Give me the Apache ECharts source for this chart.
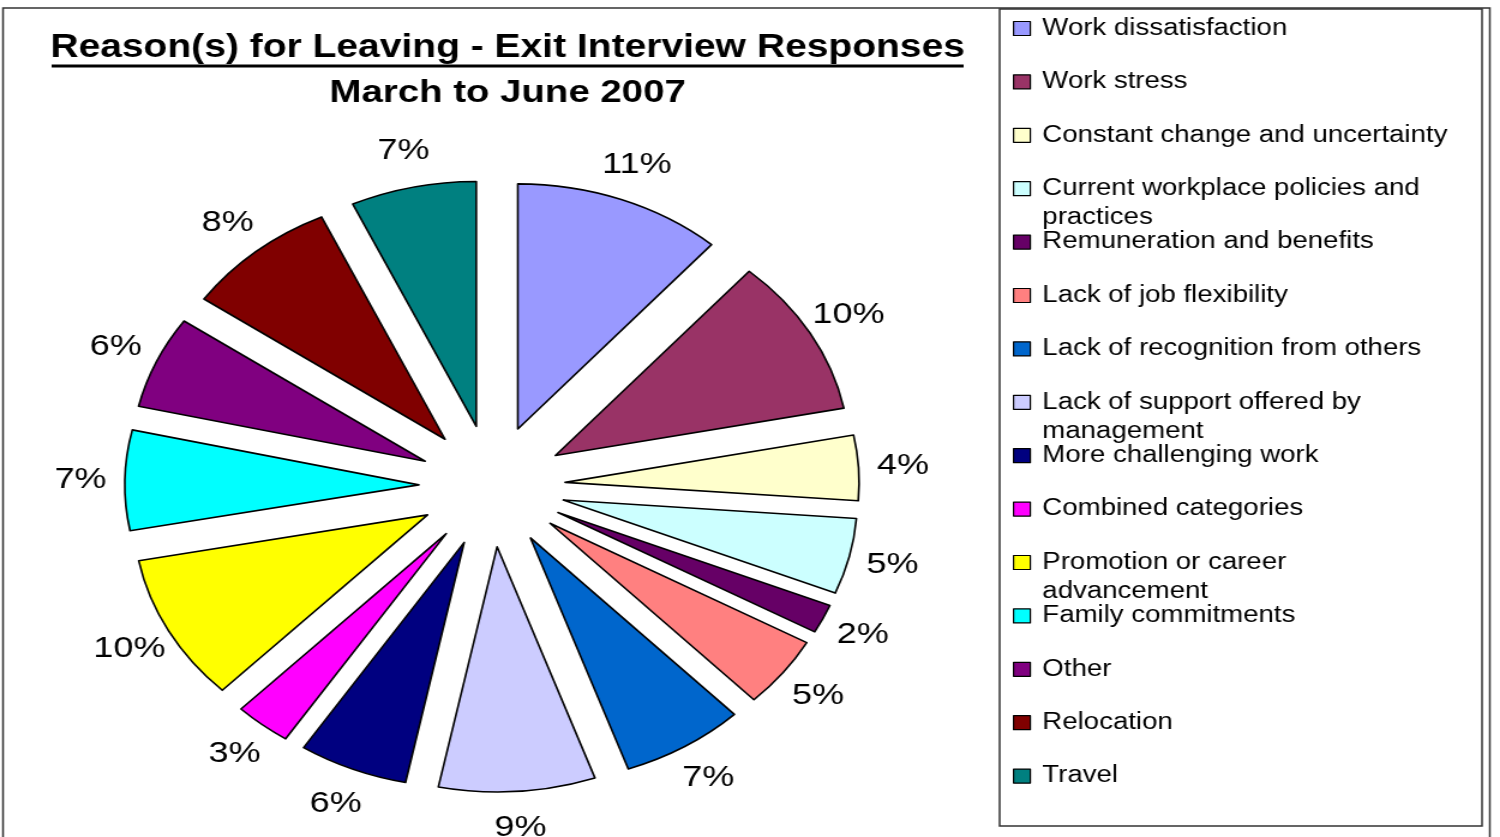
<!DOCTYPE html>
<html>
<head>
<meta charset="UTF-8">
<title>Reason(s) for Leaving - Exit Interview Responses</title>
<script src="https://cdn.jsdelivr.net/npm/echarts@6/dist/echarts.min.js"></script>
<style>
  html, body { margin: 0; padding: 0; background: #fff; overflow: hidden; }
  /* the original picture is stretched sideways, so the chart is drawn narrower and scaled */
  #main { width: 1250px; height: 837px; transform: scaleX(1.2); transform-origin: 0 0; }
</style>
</head>
<body>
<div id="main"></div>
<script type="text/javascript">
var reasons = [
  'Work dissatisfaction',
  'Work stress',
  'Constant change and uncertainty',
  'Current workplace policies and practices',
  'Remuneration and benefits',
  'Lack of job flexibility',
  'Lack of recognition from others',
  'Lack of support offered by management',
  'More challenging work',
  'Combined categories',
  'Promotion or career advancement',
  'Family commitments',
  'Other',
  'Relocation',
  'Travel'
];
// share of responses (%); labels show them rounded
var shares = [11.45, 10.45, 4.3, 5.0, 1.9, 4.7, 6.8, 8.6, 6.0, 3.1, 9.7, 6.6, 6.1, 8.4, 6.9];
var sliceColors = [
  '#9999FF', '#993366', '#FFFFCC', '#CCFFFF', '#660066',
  '#FF8080', '#0066CC', '#CCCCFF', '#000080', '#FF00FF',
  '#FFFF00', '#00FFFF', '#800080', '#800000', '#008080'
];
// legend entries that wrap onto two lines in the original
var legendText = {
  'Current workplace policies and practices': ['Current workplace policies and', 'practices'],
  'Lack of support offered by management': ['Lack of support offered by', 'management'],
  'Promotion or career advancement': ['Promotion or career', 'advancement']
};

var FONT = '"Liberation Sans", Arial, sans-serif';
var myChart = echarts.init(document.getElementById('main'));

// one legend per row so the wrapped rows don't push the others down
var legends = reasons.map(function (name, i) {
  var wrapped = legendText.hasOwnProperty(name);
  var rowY = 28.5 + 53.4 * i;
  return {
    data: [name],
    orient: 'vertical',
    left: 844,
    top: wrapped ? rowY - 40.5 : rowY - 14.5,
    padding: 0,
    icon: 'rect',
    itemWidth: 14,
    itemHeight: 14,
    selectedMode: false,
    itemStyle: { borderColor: '#000', borderWidth: 1.2 },
    formatter: function (n) {
      var t = legendText[n];
      return t ? '{a|' + t[0] + '}\n{a|' + t[1] + '}' : n;
    },
    textStyle: {
      fontFamily: FONT, fontSize: 23, color: '#000', lineHeight: 29, padding: [0, 0, 0, 5],
      rich: {
        a: { fontFamily: FONT, fontSize: 23, color: '#000', lineHeight: 29, padding: [29, 0, 0, 0] }
      }
    }
  };
});

var option = {
  animation: false,
  title: {
    text: 'Reason(s) for Leaving - Exit Interview Responses',
    subtext: 'March to June 2007',
    left: 418,
    top: 27,
    textAlign: 'center',
    itemGap: 12,
    textStyle: { fontFamily: FONT, fontSize: 32.5, fontWeight: 'bold', color: '#000' },
    subtextStyle: { fontFamily: FONT, fontSize: 32, fontWeight: 'bold', color: '#000' }
  },
  legend: legends,
  graphic: [
    { type: 'rect', shape: { x: 2.5, y: 8, width: 1239, height: 845 },
      style: { fill: 'none', stroke: '#333', lineWidth: 1.5 }, silent: true },
    { type: 'rect', shape: { x: 833, y: 9, width: 402, height: 817 },
      style: { fill: 'none', stroke: '#333', lineWidth: 1.5 }, silent: true },
    { type: 'line', shape: { x1: 43, y1: 66, x2: 803, y2: 66 },
      style: { stroke: '#000', lineWidth: 3 }, silent: true }
  ],
  series: [
    {
      // exploded slices
      type: 'pie',
      center: [410, 486],
      radius: 245,
      startAngle: 90,
      clockwise: true,
      selectedMode: 'multiple',
      selectedOffset: 61,
      avoidLabelOverlap: false,
      label: { show: false },
      labelLine: { show: false },
      emphasis: { disabled: true },
      itemStyle: { borderColor: '#000', borderWidth: 1.6 },
      data: reasons.map(function (n, i) {
        return { name: n, value: shares[i], selected: true, itemStyle: { color: sliceColors[i] } };
      })
    },
    {
      // invisible ring that carries the percentage labels
      type: 'pie',
      center: [410, 486],
      radius: [308, 372],
      startAngle: 90,
      clockwise: true,
      silent: true,
      selectedMode: false,
      avoidLabelOverlap: false,
      percentPrecision: 0,
      emphasis: { disabled: true },
      itemStyle: { color: 'rgba(0,0,0,0)', borderWidth: 0 },
      label: {
        show: true, position: 'inside', formatter: '{d}%', rotate: 0,
        fontFamily: FONT, fontSize: 30, color: '#000', textBorderWidth: 0
      },
      labelLine: { show: false },
      data: reasons.map(function (n, i) {
        return { name: n, value: shares[i] };
      })
    }
  ]
};

myChart.setOption(option);
</script>
</body>
</html>
